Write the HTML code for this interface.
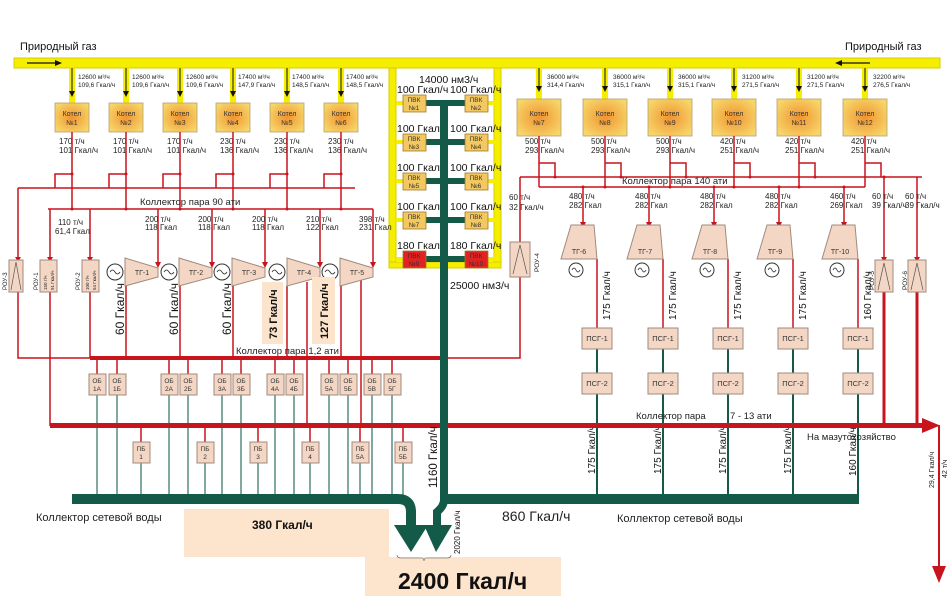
<!DOCTYPE html>
<html><head><meta charset="utf-8"><style>
html,body{margin:0;padding:0;background:#fff;}
svg{display:block;font-family:"Liberation Sans",sans-serif;}
.r{stroke:#c8141c;fill:none;stroke-width:1.5}
.g{stroke:#145a48;fill:none;stroke-width:2}
.bx{fill:#f4d6c4;stroke:#a08a7c;stroke-width:1}
.s{font-size:6.5px;fill:#222}
.m{font-size:8px;fill:#222}
.t{font-size:9.5px;fill:#222}
</style></head><body>
<svg width="949" height="596" viewBox="0 0 949 596" xmlns="http://www.w3.org/2000/svg">
<defs>
<radialGradient id="bo" cx="50%" cy="50%" r="60%"><stop offset="0" stop-color="#f19430"/><stop offset="1" stop-color="#f6d66a"/></radialGradient>
</defs>
<!-- gas bar -->
<rect x="14" y="58" width="926" height="10" fill="#f5ee00" stroke="#d6cf00"/>
<text x="20" y="50" font-size="11" fill="#111">Природный газ</text>
<text x="845" y="50" font-size="11" fill="#111">Природный газ</text>
<line x1="27" y1="63" x2="55" y2="63" stroke="#111" stroke-width="1.2"/><polygon points="55,60 62,63 55,66" fill="#111"/>
<line x1="870" y1="63" x2="842" y2="63" stroke="#111" stroke-width="1.2"/><polygon points="842,60 835,63 842,66" fill="#111"/>

<!-- PVK frame -->
<rect x="389" y="68" width="7" height="200" fill="#f5ee00" stroke="#d6cf00"/>
<rect x="494" y="68" width="7" height="200" fill="#f5ee00" stroke="#d6cf00"/>
<rect x="389" y="262" width="112" height="6" fill="#f5ee00" stroke="#d6cf00"/>
<g fill="#f5ee00">
<rect x="396" y="101" width="7" height="4"/><rect x="488" y="101" width="7" height="4"/>
<rect x="396" y="140" width="7" height="4"/><rect x="488" y="140" width="7" height="4"/>
<rect x="396" y="179" width="7" height="4"/><rect x="488" y="179" width="7" height="4"/>
<rect x="396" y="218" width="7" height="4"/><rect x="488" y="218" width="7" height="4"/>
<rect x="396" y="257" width="7" height="4"/><rect x="488" y="257" width="7" height="4"/>
</g>
<g fill="#145a48">
<rect x="426" y="100" width="39" height="6"/><rect x="426" y="139" width="39" height="6"/>
<rect x="426" y="178" width="39" height="6"/><rect x="426" y="217" width="39" height="6"/>
<rect x="426" y="256" width="39" height="6"/>
</g>
<g stroke="#a07a30" stroke-width="0.8" fill="#f3c860">
<rect x="403" y="95" width="23" height="17"/><rect x="465" y="95" width="23" height="17"/>
<rect x="403" y="134" width="23" height="17"/><rect x="465" y="134" width="23" height="17"/>
<rect x="403" y="173" width="23" height="17"/><rect x="465" y="173" width="23" height="17"/>
<rect x="403" y="212" width="23" height="17"/><rect x="465" y="212" width="23" height="17"/>
<rect x="403" y="251" width="23" height="17" fill="#e02222"/><rect x="465" y="251" width="23" height="17" fill="#e02222"/>
</g>
<g font-size="6.5" fill="#333" text-anchor="middle">
<text x="414" y="102">ПВК</text><text x="414" y="110">№1</text><text x="476" y="102">ПВК</text><text x="476" y="110">№2</text>
<text x="414" y="141">ПВК</text><text x="414" y="149">№3</text><text x="476" y="141">ПВК</text><text x="476" y="149">№4</text>
<text x="414" y="180">ПВК</text><text x="414" y="188">№5</text><text x="476" y="180">ПВК</text><text x="476" y="188">№6</text>
<text x="414" y="219">ПВК</text><text x="414" y="227">№7</text><text x="476" y="219">ПВК</text><text x="476" y="227">№8</text>
<text x="414" y="258">ПВК</text><text x="414" y="266">№9</text><text x="476" y="258">ПВК</text><text x="476" y="266">№10</text>
</g>
<g font-size="10.5" fill="#111">
<text x="419" y="83">14000 нм3/ч</text>
<text x="397" y="93">100 Гкал/ч</text><text x="450" y="93">100 Гкал/ч</text>
<text x="397" y="132">100 Гкал/ч</text><text x="450" y="132">100 Гкал/ч</text>
<text x="397" y="171">100 Гкал/ч</text><text x="450" y="171">100 Гкал/ч</text>
<text x="397" y="210">100 Гкал/ч</text><text x="450" y="210">100 Гкал/ч</text>
<text x="397" y="249">180 Гкал/ч</text><text x="450" y="249">180 Гкал/ч</text>
<text x="450" y="289">25000 нм3/ч</text>
</g>

<!-- Boilers 1-6 -->
<g id="b">
<g fill="#f5ee00"><rect x="69" y="68" width="6" height="35"/><rect x="123" y="68" width="6" height="35"/><rect x="177" y="68" width="6" height="35"/><rect x="230" y="68" width="6" height="35"/><rect x="284" y="68" width="6" height="35"/><rect x="338" y="68" width="6" height="35"/>
<rect x="536" y="68" width="6" height="31"/><rect x="602" y="68" width="6" height="31"/><rect x="667" y="68" width="6" height="31"/><rect x="731" y="68" width="6" height="31"/><rect x="796" y="68" width="6" height="31"/><rect x="862" y="68" width="6" height="31"/></g>
<g stroke="#111" stroke-width="1">
<line x1="72" y1="68" x2="72" y2="92"/><line x1="126" y1="68" x2="126" y2="92"/><line x1="180" y1="68" x2="180" y2="92"/><line x1="233" y1="68" x2="233" y2="92"/><line x1="287" y1="68" x2="287" y2="92"/><line x1="341" y1="68" x2="341" y2="92"/>
<line x1="539" y1="68" x2="539" y2="87"/><line x1="605" y1="68" x2="605" y2="87"/><line x1="670" y1="68" x2="670" y2="87"/><line x1="734" y1="68" x2="734" y2="87"/><line x1="799" y1="68" x2="799" y2="87"/><line x1="865" y1="68" x2="865" y2="87"/></g>
<g fill="#111">
<polygon points="69,91 75,91 72,97"/><polygon points="123,91 129,91 126,97"/><polygon points="177,91 183,91 180,97"/><polygon points="230,91 236,91 233,97"/><polygon points="284,91 290,91 287,97"/><polygon points="338,91 344,91 341,97"/>
<polygon points="536,86 542,86 539,92"/><polygon points="602,86 608,86 605,92"/><polygon points="667,86 673,86 670,92"/><polygon points="731,86 737,86 734,92"/><polygon points="796,86 802,86 799,92"/><polygon points="862,86 868,86 865,92"/></g>
<g fill="url(#bo)" stroke="#b8a070" stroke-width="0.8">
<rect x="55" y="103" width="34" height="29"/><rect x="109" y="103" width="34" height="29"/><rect x="163" y="103" width="34" height="29"/><rect x="216" y="103" width="34" height="29"/><rect x="270" y="103" width="34" height="29"/><rect x="324" y="103" width="34" height="29"/>
<rect x="517" y="99" width="44" height="37"/><rect x="583" y="99" width="44" height="37"/><rect x="648" y="99" width="44" height="37"/><rect x="712" y="99" width="44" height="37"/><rect x="777" y="99" width="44" height="37"/><rect x="843" y="99" width="44" height="37"/></g>
<g font-size="7" fill="#333" text-anchor="middle">
<text x="72" y="116">Котел</text><text x="72" y="125">№1</text><text x="126" y="116">Котел</text><text x="126" y="125">№2</text><text x="180" y="116">Котел</text><text x="180" y="125">№3</text><text x="233" y="116">Котел</text><text x="233" y="125">№4</text><text x="287" y="116">Котел</text><text x="287" y="125">№5</text><text x="341" y="116">Котел</text><text x="341" y="125">№6</text>
<text x="539" y="116">Котел</text><text x="539" y="125">№7</text><text x="605" y="116">Котел</text><text x="605" y="125">№8</text><text x="670" y="116">Котел</text><text x="670" y="125">№9</text><text x="734" y="116">Котел</text><text x="734" y="125">№10</text><text x="799" y="116">Котел</text><text x="799" y="125">№11</text><text x="865" y="116">Котел</text><text x="865" y="125">№12</text></g>
<g class="s">
<text x="78" y="79">12600 м³/ч</text><text x="78" y="87">109,6 Гкал/ч</text>
<text x="132" y="79">12600 м³/ч</text><text x="132" y="87">109,6 Гкал/ч</text>
<text x="186" y="79">12600 м³/ч</text><text x="186" y="87">109,6 Гкал/ч</text>
<text x="238" y="79">17400 м³/ч</text><text x="238" y="87">147,9 Гкал/ч</text>
<text x="292" y="79">17400 м³/ч</text><text x="292" y="87">148,5 Гкал/ч</text>
<text x="346" y="79">17400 м³/ч</text><text x="346" y="87">148,5 Гкал/ч</text>
<text x="547" y="79">36000 м³/ч</text><text x="547" y="87">314,4 Гкал/ч</text>
<text x="613" y="79">36000 м³/ч</text><text x="613" y="87">315,1 Гкал/ч</text>
<text x="678" y="79">36000 м³/ч</text><text x="678" y="87">315,1 Гкал/ч</text>
<text x="742" y="79">31200 м³/ч</text><text x="742" y="87">271,5 Гкал/ч</text>
<text x="807" y="79">31200 м³/ч</text><text x="807" y="87">271,5 Гкал/ч</text>
<text x="873" y="79">32200 м³/ч</text><text x="873" y="87">276,5 Гкал/ч</text></g>
<g class="m">
<text x="59" y="144">170 т/ч</text><text x="59" y="153">101 Гкал/ч</text>
<text x="113" y="144">170 т/ч</text><text x="113" y="153">101 Гкал/ч</text>
<text x="167" y="144">170 т/ч</text><text x="167" y="153">101 Гкал/ч</text>
<text x="220" y="144">230 т/ч</text><text x="220" y="153">136 Гкал/ч</text>
<text x="274" y="144">230 т/ч</text><text x="274" y="153">136 Гкал/ч</text>
<text x="328" y="144">230 т/ч</text><text x="328" y="153">136 Гкал/ч</text>
<text x="525" y="144">500 т/ч</text><text x="525" y="153">293 Гкал/ч</text>
<text x="591" y="144">500 т/ч</text><text x="591" y="153">293 Гкал/ч</text>
<text x="656" y="144">500 т/ч</text><text x="656" y="153">293 Гкал/ч</text>
<text x="720" y="144">420 т/ч</text><text x="720" y="153">251 Гкал/ч</text>
<text x="785" y="144">420 т/ч</text><text x="785" y="153">251 Гкал/ч</text>
<text x="851" y="144">420 т/ч</text><text x="851" y="153">251 Гкал/ч</text></g>
</g>

<!-- steam 90 -->
<g class="r">
<path d="M72,132V209M126,132V209M180,132V209M233,132V209M287,132V209M341,132V209"/>
<path d="M72,174H55V188M126,174H109V188M180,174H163V188M233,174H216V188M287,174H270V188M341,174H324V188"/>
<path d="M18,188H355M48,209H373"/>
<path d="M18,188V260M18,292V358H90M50,209V260M50,292V426M90,209V260M90,292V358"/>
<path d="M158,209V263M212,209V263M265,209V263M320,209V263M373,209V263"/>
<path d="M126,286V358M180,286V358M233,286V358M287,286V358M307,282V426M341,286V358M361,280V426"/>
</g>
<g fill="#c8141c">
<polygon points="155,262 161,262 158,268"/><polygon points="209,262 215,262 212,268"/><polygon points="262,262 268,262 265,268"/><polygon points="317,262 323,262 320,268"/><polygon points="370,262 376,262 373,268"/>
<polygon points="15,257 21,257 18,262"/><polygon points="47,257 53,257 50,262"/><polygon points="87,257 93,257 90,262"/>
<circle cx="72" cy="174" r="1.5"/><circle cx="126" cy="174" r="1.5"/><circle cx="180" cy="174" r="1.5"/><circle cx="233" cy="174" r="1.5"/><circle cx="287" cy="174" r="1.5"/><circle cx="341" cy="174" r="1.5"/>
<circle cx="72" cy="209" r="1.5"/><circle cx="126" cy="209" r="1.5"/><circle cx="180" cy="209" r="1.5"/><circle cx="233" cy="209" r="1.5"/><circle cx="287" cy="209" r="1.5"/><circle cx="341" cy="209" r="1.5"/>
</g>
<text x="140" y="205" class="t">Коллектор пара 90 ати</text>
<g class="m">
<text x="58" y="225">110 т/ч</text><text x="55" y="234">61,4 Гкал</text>
<text x="145" y="222">200 т/ч</text><text x="145" y="230">118 Гкал</text>
<text x="198" y="222">200 т/ч</text><text x="198" y="230">118 Гкал</text>
<text x="252" y="222">200 т/ч</text><text x="252" y="230">118 Гкал</text>
<text x="306" y="222">210 т/ч</text><text x="306" y="230">122 Гкал</text>
<text x="359" y="222">398 т/ч</text><text x="359" y="230">231 Гкал</text></g>

<!-- ROU left -->
<g class="bx"><rect x="9" y="260" width="14" height="32"/><rect x="40" y="260" width="17" height="32"/><rect x="82" y="260" width="17" height="32"/></g>
<path d="M11,290L16,262L21,290" stroke="#555" fill="none" stroke-width="0.7"/>
<g font-size="6" fill="#222">
<text transform="translate(7,290) rotate(-90)">РОУ-3</text><text transform="translate(38,290) rotate(-90)">РОУ-1</text><text transform="translate(80,290) rotate(-90)">РОУ-2</text>
<text transform="translate(47,290) rotate(-90)" font-size="4.5">150 т/ч</text><text transform="translate(54,290) rotate(-90)" font-size="4.5">91 Гкал/ч</text>
<text transform="translate(89,290) rotate(-90)" font-size="4.5">100 т/ч</text><text transform="translate(96,290) rotate(-90)" font-size="4.5">54 Гкал/ч</text></g>

<!-- TG left -->
<g class="bx">
<polygon points="125,258 158,268 158,277 125,286"/><polygon points="179,258 212,268 212,277 179,286"/><polygon points="232,258 265,268 265,277 232,286"/><polygon points="287,258 320,268 320,277 287,286"/><polygon points="340,258 373,268 373,277 340,286"/></g>
<g fill="#fff" stroke="#333" stroke-width="1">
<circle cx="115" cy="272" r="8"/><circle cx="169" cy="272" r="8"/><circle cx="222" cy="272" r="8"/><circle cx="277" cy="272" r="8"/><circle cx="330" cy="272" r="8"/></g>
<g stroke="#333" fill="none" stroke-width="0.8">
<path d="M110,272q2.5,-4 5,0t5,0M164,272q2.5,-4 5,0t5,0M217,272q2.5,-4 5,0t5,0M272,272q2.5,-4 5,0t5,0M325,272q2.5,-4 5,0t5,0"/></g>
<g font-size="7" fill="#333" text-anchor="middle">
<text x="142" y="275">ТГ-1</text><text x="196" y="275">ТГ-2</text><text x="249" y="275">ТГ-3</text><text x="304" y="275">ТГ-4</text><text x="357" y="275">ТГ-5</text></g>
<g font-size="12" fill="#111">
<text transform="translate(124,335) rotate(-90)">60 Гкал/ч</text>
<text transform="translate(178,335) rotate(-90)">60 Гкал/ч</text>
<text transform="translate(231,335) rotate(-90)">60 Гкал/ч</text></g>
<rect x="262" y="282" width="21" height="62" fill="#fbe3cc"/>
<rect x="312" y="277" width="23" height="67" fill="#fbe3cc"/>
<g font-size="11" font-weight="bold" fill="#111">
<text transform="translate(277,339) rotate(-90)">73 Гкал/ч</text>
<text transform="translate(328,339) rotate(-90)">127 Гкал/ч</text></g>

<!-- collector 1.2 -->
<text x="236" y="354" class="t">Коллектор пара 1,2 ати</text>
<rect x="90" y="356" width="352" height="4" fill="#c8141c"/>
<path class="r" d="M448,358H520V277M520,242V177"/>
<!-- OB boxes -->
<g class="r"><path d="M97,358V374M117,358V374M169,358V374M188,358V374M222,358V374M241,358V374M275,358V374M294,358V374M329,358V374M348,358V374M372,358V374M392,358V374"/>
<path d="M141,426V442M205,426V442M258,426V442M310,426V442M360,426V442M403,426V442"/></g>
<g stroke="#2d7060" stroke-width="1.2"><path d="M97,395V495M117,395V495M169,395V495M188,395V495M222,395V495M241,395V495M275,395V495M294,395V495M329,395V495M348,395V495M372,395V495M392,395V495M141,463V495M205,463V495M258,463V495M310,463V495M360,463V495M403,463V495"/></g>
<g class="bx">
<rect x="89" y="374" width="17" height="21"/><rect x="109" y="374" width="17" height="21"/><rect x="161" y="374" width="17" height="21"/><rect x="180" y="374" width="17" height="21"/><rect x="214" y="374" width="17" height="21"/><rect x="233" y="374" width="17" height="21"/><rect x="267" y="374" width="17" height="21"/><rect x="286" y="374" width="17" height="21"/><rect x="321" y="374" width="17" height="21"/><rect x="340" y="374" width="17" height="21"/><rect x="364" y="374" width="17" height="21"/><rect x="384" y="374" width="17" height="21"/>
<rect x="133" y="442" width="17" height="21"/><rect x="197" y="442" width="17" height="21"/><rect x="250" y="442" width="17" height="21"/><rect x="302" y="442" width="17" height="21"/><rect x="352" y="442" width="17" height="21"/><rect x="395" y="442" width="17" height="21"/></g>
<g font-size="6.5" fill="#333" text-anchor="middle">
<text x="97" y="383">ОБ</text><text x="97" y="391">1А</text><text x="117" y="383">ОБ</text><text x="117" y="391">1Б</text>
<text x="169" y="383">ОБ</text><text x="169" y="391">2А</text><text x="188" y="383">ОБ</text><text x="188" y="391">2Б</text>
<text x="222" y="383">ОБ</text><text x="222" y="391">3А</text><text x="241" y="383">ОБ</text><text x="241" y="391">3Б</text>
<text x="275" y="383">ОБ</text><text x="275" y="391">4А</text><text x="294" y="383">ОБ</text><text x="294" y="391">4Б</text>
<text x="329" y="383">ОБ</text><text x="329" y="391">5А</text><text x="348" y="383">ОБ</text><text x="348" y="391">5Б</text>
<text x="372" y="383">ОБ</text><text x="372" y="391">5В</text><text x="392" y="383">ОБ</text><text x="392" y="391">5Г</text>
<text x="141" y="451">ПБ</text><text x="141" y="459">1</text><text x="205" y="451">ПБ</text><text x="205" y="459">2</text>
<text x="258" y="451">ПБ</text><text x="258" y="459">3</text><text x="310" y="451">ПБ</text><text x="310" y="459">4</text>
<text x="360" y="451">ПБ</text><text x="360" y="459">5А</text><text x="403" y="451">ПБ</text><text x="403" y="459">5Б</text></g>

<!-- right steam 140 -->
<g class="r">
<path d="M539,136V187M605,136V187M670,136V187M734,136V187M799,136V187M865,136V187"/>
<path d="M539,163H555V177M605,163H621V177M670,163H686V177M734,163H750V177M799,163H815V177M865,163H881V177"/>
<path d="M520,177H922M539,187H865"/>
<path d="M583,187V223M649,187V223M714,187V223M779,187V223M844,187V223"/>
<path d="M597,259V328M663,259V328M728,259V328M793,259V328M858,259V328"/>
<path d="M884,177V260M917,177V260"/>
</g>
<path d="M884,292V426M917,292V426" stroke="#c8141c" stroke-width="3" fill="none"/>
<g fill="#c8141c">
<polygon points="580,222 586,222 583,228"/><polygon points="646,222 652,222 649,228"/><polygon points="711,222 717,222 714,228"/><polygon points="776,222 782,222 779,228"/><polygon points="841,222 847,222 844,228"/>
<polygon points="881,257 887,257 884,262"/><polygon points="914,257 920,257 917,262"/>
<circle cx="583" cy="187" r="1.5"/><circle cx="605" cy="187" r="1.5"/><circle cx="649" cy="187" r="1.5"/><circle cx="670" cy="187" r="1.5"/><circle cx="714" cy="187" r="1.5"/><circle cx="734" cy="187" r="1.5"/><circle cx="779" cy="187" r="1.5"/><circle cx="799" cy="187" r="1.5"/><circle cx="844" cy="187" r="1.5"/>
<circle cx="555" cy="177" r="1.5"/><circle cx="621" cy="177" r="1.5"/><circle cx="686" cy="177" r="1.5"/><circle cx="750" cy="177" r="1.5"/><circle cx="815" cy="177" r="1.5"/><circle cx="884" cy="177" r="1.5"/>
</g>
<text x="622" y="184" class="t">Коллектор пара 140 ати</text>
<g class="m">
<text x="509" y="200">60 т/ч</text><text x="509" y="210">32 Гкал/ч</text>
<text x="569" y="199">480 т/ч</text><text x="569" y="208">282 Гкал</text>
<text x="635" y="199">480 т/ч</text><text x="635" y="208">282 Гкал</text>
<text x="700" y="199">480 т/ч</text><text x="700" y="208">282 Гкал</text>
<text x="765" y="199">480 т/ч</text><text x="765" y="208">282 Гкал</text>
<text x="830" y="199">460 т/ч</text><text x="830" y="208">269 Гкал</text>
<text x="872" y="199">60 т/ч</text><text x="872" y="208">39 Гкал/ч</text>
<text x="905" y="199">60 т/ч</text><text x="905" y="208">39 Гкал/ч</text></g>
<g class="bx"><rect x="510" y="242" width="20" height="35"/><rect x="875" y="260" width="18" height="32"/><rect x="908" y="260" width="18" height="32"/>
<polygon points="571,225 594,225 597,259 561,259"/><polygon points="637,225 660,225 663,259 627,259"/><polygon points="702,225 725,225 728,259 692,259"/><polygon points="767,225 790,225 793,259 757,259"/><polygon points="832,225 855,225 858,259 822,259"/></g>
<path d="M513,274L520,245L527,274M878,290L884,263L890,290M911,290L917,263L923,290" stroke="#555" fill="none" stroke-width="0.7"/>
<g font-size="6.5" fill="#222"><text transform="translate(539,272) rotate(-90)">РОУ-4</text><text transform="translate(874,290) rotate(-90)">РОУ-5</text><text transform="translate(907,290) rotate(-90)">РОУ-6</text></g>
<g font-size="7" fill="#333" text-anchor="middle">
<text x="579" y="254">ТГ-6</text><text x="645" y="254">ТГ-7</text><text x="710" y="254">ТГ-8</text><text x="775" y="254">ТГ-9</text><text x="840" y="254">ТГ-10</text></g>
<g fill="#fff" stroke="#333" stroke-width="1"><circle cx="576" cy="270" r="7"/><circle cx="642" cy="270" r="7"/><circle cx="707" cy="270" r="7"/><circle cx="772" cy="270" r="7"/><circle cx="837" cy="270" r="7"/></g>
<g stroke="#333" fill="none" stroke-width="0.8"><path d="M572,270q2,-4 4,0t4,0M638,270q2,-4 4,0t4,0M703,270q2,-4 4,0t4,0M768,270q2,-4 4,0t4,0M833,270q2,-4 4,0t4,0"/></g>
<g font-size="10" fill="#111">
<text transform="translate(610,320) rotate(-90)">175 Гкал/ч</text><text transform="translate(676,320) rotate(-90)">175 Гкал/ч</text><text transform="translate(741,320) rotate(-90)">175 Гкал/ч</text><text transform="translate(806,320) rotate(-90)">175 Гкал/ч</text><text transform="translate(871,320) rotate(-90)">160 Гкал/ч</text>
<text transform="translate(595,474) rotate(-90)">175 Гкал/ч</text><text transform="translate(661,474) rotate(-90)">175 Гкал/ч</text><text transform="translate(726,474) rotate(-90)">175 Гкал/ч</text><text transform="translate(791,474) rotate(-90)">175 Гкал/ч</text><text transform="translate(856,476) rotate(-90)">160 Гкал/ч</text></g>
<g stroke="#145a48" stroke-width="2"><path d="M597,349V373M663,349V373M728,349V373M793,349V373M858,349V373M597,394V495M663,394V495M728,394V495M793,394V495M858,394V495"/></g>
<g class="bx">
<rect x="582" y="328" width="30" height="21"/><rect x="648" y="328" width="30" height="21"/><rect x="713" y="328" width="30" height="21"/><rect x="778" y="328" width="30" height="21"/><rect x="843" y="328" width="30" height="21"/>
<rect x="582" y="373" width="30" height="21"/><rect x="648" y="373" width="30" height="21"/><rect x="713" y="373" width="30" height="21"/><rect x="778" y="373" width="30" height="21"/><rect x="843" y="373" width="30" height="21"/></g>
<g font-size="7.5" fill="#333" text-anchor="middle">
<text x="597" y="341">ПСГ-1</text><text x="663" y="341">ПСГ-1</text><text x="728" y="341">ПСГ-1</text><text x="793" y="341">ПСГ-1</text><text x="858" y="341">ПСГ-1</text>
<text x="597" y="386">ПСГ-2</text><text x="663" y="386">ПСГ-2</text><text x="728" y="386">ПСГ-2</text><text x="793" y="386">ПСГ-2</text><text x="858" y="386">ПСГ-2</text></g>

<!-- collector 7-13 -->
<rect x="50" y="423" width="874" height="5" fill="#c8141c"/>
<polygon points="922,418 940,425.5 922,433" fill="#c8141c"/>
<line x1="939" y1="425" x2="939" y2="570" stroke="#c8141c" stroke-width="2"/>
<polygon points="932,566 946,566 939,583" fill="#c8141c"/>
<text x="636" y="419" class="t">Коллектор пара</text><text x="730" y="419" class="t">7 - 13 ати</text>
<text x="807" y="440" class="t">На мазутохозяйство</text>
<g font-size="7" fill="#222"><text transform="translate(934,488) rotate(-90)">29,4 Гкал/ч</text><text transform="translate(947,478) rotate(-90)">42 т/ч</text></g>

<!-- water collectors -->
<rect x="184" y="509" width="205" height="48" fill="#fde4cc"/>
<rect x="365" y="557" width="196" height="39" fill="#fde4cc"/>
<path d="M72,499H398Q411,499 411,512V530" stroke="#145a48" stroke-width="10" fill="none"/>
<path d="M444,100V500Q444,506 437,512V530" stroke="#145a48" stroke-width="8" fill="none"/>
<rect x="441" y="494" width="418" height="10" fill="#145a48"/>
<polygon points="394,525 428,525 411,552" fill="#145a48"/>
<polygon points="424,525 452,525 436,552" fill="#145a48"/>
<path d="M397,555q0,3 4,3h20q3,0 3,3q0,-3 3,-3h20q4,0 4,-3" stroke="#555" fill="none" stroke-width="0.6"/>
<text x="36" y="521" font-size="11" fill="#222">Коллектор сетевой воды</text>
<text x="617" y="522" font-size="11" fill="#222">Коллектор сетевой воды</text>
<text x="502" y="521" font-size="14" fill="#222">860 Гкал/ч</text>
<text x="252" y="529" font-size="12" font-weight="bold" fill="#111">380 Гкал/ч</text>
<text x="398" y="589" font-size="23" font-weight="bold" fill="#111">2400 Гкал/ч</text>
<text transform="translate(437,488) rotate(-90)" font-size="11.5" fill="#111">1160 Гкал/ч</text>
<text transform="translate(460,554) rotate(-90)" font-size="8" fill="#111">2020 Гкал/ч</text>
</svg>
</body></html>
